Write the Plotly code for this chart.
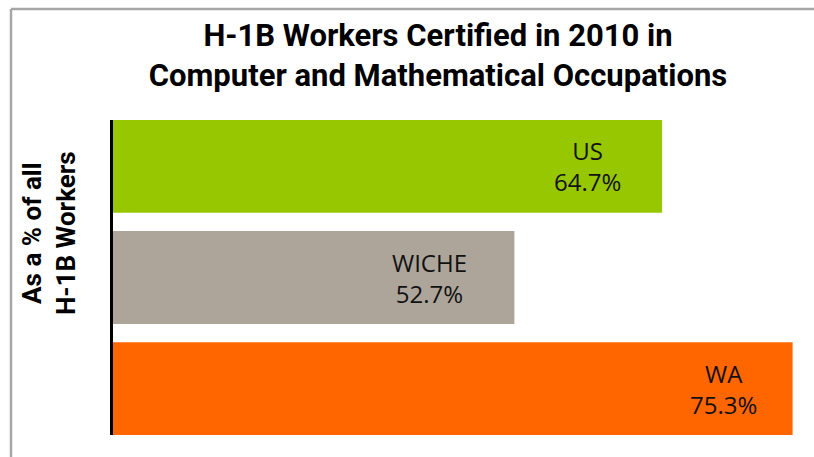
import plotly.graph_objects as go

# Data
categories = ["US", "WICHE", "WA"]
values = [64.7, 52.7, 75.3]
value_labels = ["64.7%", "52.7%", "75.3%"]

# Styles
bar_colors = ["#97C700", "#ADA59A", "#FF6600"]
label_xshift = [-75, -85, -69]

W, H = 814, 457
ML, MR, MT, MB = 113, 14, 120, 22
PW, PH = W - ML - MR, H - MT - MB

fig = go.Figure()
fig.add_trace(go.Bar(
    x=values, y=categories, orientation="h",
    marker=dict(color=bar_colors, line=dict(width=0)),
    width=0.835, hoverinfo="skip",
))

for cat, val, lab, xs in zip(categories, values, value_labels, label_xshift):
    fig.add_annotation(
        x=val, y=cat, xref="x", yref="y",
        text=f"{cat}<br>{lab}", showarrow=False,
        xanchor="center", yanchor="middle", xshift=xs, align="center",
        font=dict(family="Open Sans", size=24, color="#111111"),
    )

# y-axis title (rotated)
fig.add_annotation(
    xref="paper", yref="paper",
    x=(49 - ML) / PW, y=(H - MB - 233) / PH,
    text="<b>As a % of all<br>H-1B Workers</b>", showarrow=False,
    textangle=-90, xanchor="center", yanchor="middle", align="center",
    font=dict(family="Roboto", size=26, color="#000000"),
)

# outer frame (left and top edges visible)
fx = (11 - ML) / PW
fy = (H - MB - 9) / PH
fig.add_shape(type="line", xref="paper", yref="paper",
              x0=fx, x1=fx, y0=fy, y1=-0.2,
              line=dict(color="#A6A6A6", width=2.5))
fig.add_shape(type="line", xref="paper", yref="paper",
              x0=fx, x1=1.2, y0=fy, y1=fy,
              line=dict(color="#A6A6A6", width=2.5))

fig.update_layout(
    width=W, height=H,
    margin=dict(l=ML, r=MR, t=MT, b=MB, pad=0),
    paper_bgcolor="white", plot_bgcolor="white",
    showlegend=False,
    title=dict(
        text="<b>H-1B Workers Certified in 2010 in<br>Computer and Mathematical Occupations</b>",
        x=438 / W, xanchor="center", xref="container",
        y=1 - 46 / H, yanchor="middle", yref="container",
        font=dict(family="Roboto", size=31, color="#000000"),
    ),
    xaxis=dict(range=[20.1, 75.9], showgrid=False, zeroline=False,
               showticklabels=False, ticks="", showline=False, fixedrange=True),
    yaxis=dict(range=[2.417, -0.417], showgrid=False, zeroline=False,
               showticklabels=False, ticks="", showline=True,
               linecolor="#000000", linewidth=3, fixedrange=True),
)

fig.write_html("out.html",
               config={"displayModeBar": False, "staticPlot": True},
               post_script="document.body.style.margin='0';document.body.style.overflow='hidden';")
